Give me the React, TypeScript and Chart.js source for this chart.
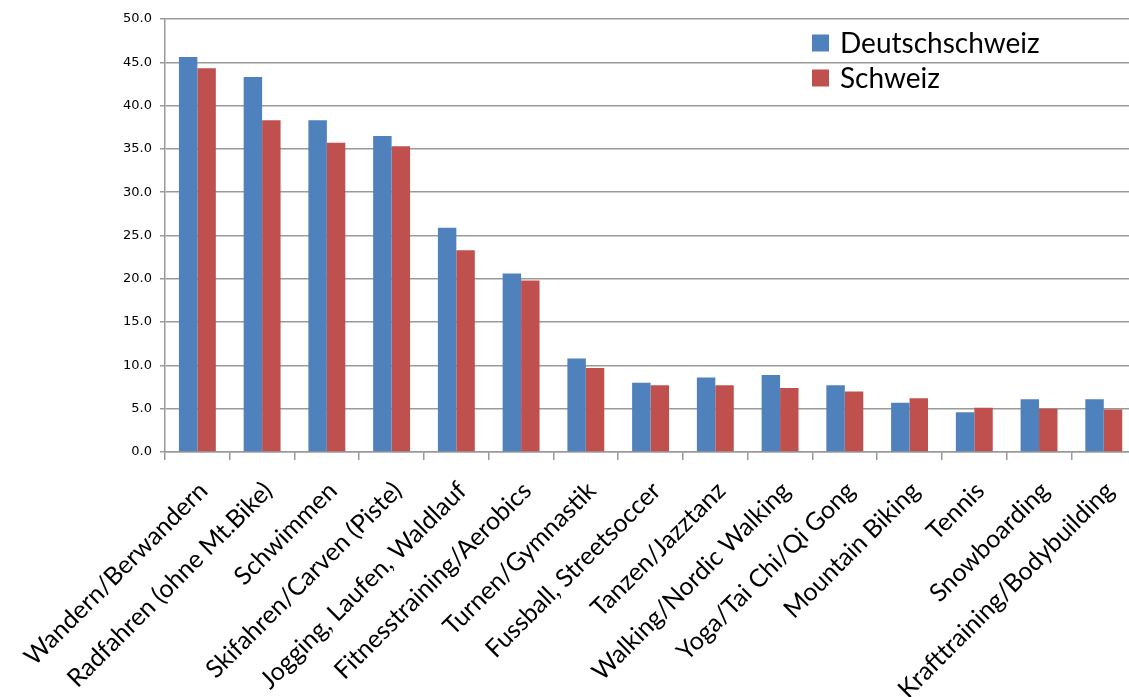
import React, { useEffect, useRef } from "react";
import { Chart, registerables } from "chart.js";

Chart.register(...registerables);

const categories = [
  "Wandern/Berwandern",
  "Radfahren (ohne Mt.Bike)",
  "Schwimmen",
  "Skifahren/Carven (Piste)",
  "Jogging, Laufen, Waldlauf",
  "Fitnesstraining/Aerobics",
  "Turnen/Gymnastik",
  "Fussball, Streetsoccer",
  "Tanzen/Jazztanz",
  "Walking/Nordic Walking",
  "Yoga/Tai Chi/Qi Gong",
  "Mountain Biking",
  "Tennis",
  "Snowboarding",
  "Krafttraining/Bodybuilding",
];

const deutschschweiz = [45.6, 43.3, 38.3, 36.5, 25.9, 20.6, 10.8, 8.0, 8.6, 8.9, 7.7, 5.7, 4.6, 6.1, 6.1];
const schweiz = [44.3, 38.3, 35.7, 35.3, 23.3, 19.8, 9.7, 7.7, 7.7, 7.4, 7.0, 6.2, 5.1, 5.0, 4.9];
const seriesNames = ["Deutschschweiz", "Schweiz"];
const seriesColors = ["#4F81BD", "#C0504D"];

const yMin = 0;
const yMax = 50;
const yStep = 5;

const legendPlugin = {
  id: "cornerLegend",
  afterDraw(chart: any) {
    const ctx = chart.ctx;
    ctx.save();
    ctx.font = "28px Lato";
    ctx.textBaseline = "middle";
    ctx.textAlign = "left";
    chart.data.datasets.forEach((ds: any, i: number) => {
      const cy = 43 + i * 35;
      ctx.fillStyle = ds.backgroundColor;
      ctx.fillRect(812, cy - 8.5, 17, 17);
      ctx.fillStyle = "#000";
      ctx.fillText(ds.label, 840, cy + 1);
    });
    ctx.restore();
  },
};

export default function App() {
  const ref = useRef<HTMLCanvasElement | null>(null);

  useEffect(() => {
    if (!ref.current) return;
    const chart = new Chart(ref.current, {
      type: "bar",
      data: {
        labels: categories,
        datasets: [
          {
            label: seriesNames[0],
            data: deutschschweiz,
            backgroundColor: seriesColors[0],
            categoryPercentage: 0.57,
            barPercentage: 1.0,
          },
          {
            label: seriesNames[1],
            data: schweiz,
            backgroundColor: seriesColors[1],
            categoryPercentage: 0.57,
            barPercentage: 1.0,
          },
        ],
      },
      options: {
        animation: false,
        responsive: false,
        maintainAspectRatio: false,
        layout: { padding: { top: 19, right: 0, left: 0, bottom: 0 } },
        plugins: {
          legend: { display: false },
          tooltip: { enabled: false },
        },
        scales: {
          x: {
            grid: {
              display: true,
              drawOnChartArea: false,
              drawTicks: true,
              tickLength: 8,
              color: "#9a9a9a",
              lineWidth: 1.5,
              offset: true,
            },
            border: { display: true, color: "#9a9a9a", width: 1.5 },
            ticks: {
              autoSkip: false,
              minRotation: 45,
              maxRotation: 45,
              padding: 16,
              labelOffset: 6,
              color: "#000",
              font: { family: "Lato", size: 25 },
            },
            afterFit(scale: any) {
              scale.height = 697 - 452;
            },
          },
          y: {
            min: yMin,
            max: yMax,
            grid: {
              color: "#9a9a9a",
              lineWidth: 1.5,
              drawTicks: true,
              tickLength: 5,
            },
            border: { display: true, color: "#9a9a9a", width: 1.5 },
            ticks: {
              stepSize: yStep,
              padding: 8,
              color: "#000",
              font: { family: "DejaVu Sans", size: 13 },
              callback: (v: any) => Number(v).toFixed(1),
            },
            afterFit(scale: any) {
              scale.width = 165;
            },
          },
        },
      },
      plugins: [legendPlugin],
    });
    return () => chart.destroy();
  }, []);

  return (
    <div
      style={{
        position: "fixed",
        left: 0,
        top: 0,
        width: 1129,
        height: 697,
        overflow: "hidden",
        background: "#fff",
      }}
    >
      <canvas ref={ref} width={1141} height={697} style={{ display: "block" }} />
    </div>
  );
}
